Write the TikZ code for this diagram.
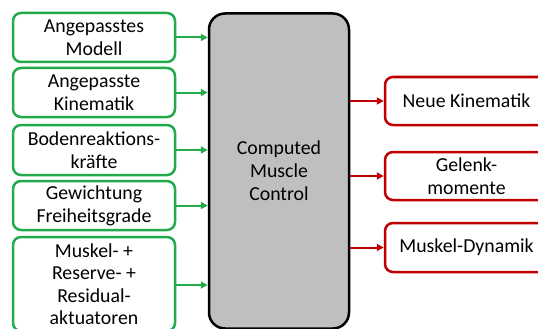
\documentclass[tikz,border=0pt]{standalone}
\usepackage{fontspec}
\setmainfont{Carlito}
\usetikzlibrary{arrows.meta}
\definecolor{ingreen}{RGB}{34,170,75}
\definecolor{outred}{RGB}{192,0,0}
\definecolor{mainfill}{RGB}{191,191,191}
\tikzset{
  inbox/.style={draw=ingreen, line width=2.5pt, rounded corners=8pt, fill=white,
    minimum width=162pt, align=center, inner sep=0pt, font=\fontsize{19.8}{23}\selectfont},
  outbox/.style={draw=outred, line width=2.5pt, rounded corners=8pt, fill=white,
    minimum width=163pt, align=center, inner sep=0pt, font=\fontsize{19.8}{23}\selectfont},
  mainbox/.style={draw=black, line width=2.5pt, rounded corners=16pt, fill=mainfill,
    minimum width=140pt, minimum height=315pt, align=center, inner sep=0pt, font=\fontsize{19.8}{23}\selectfont},
  inarrow/.style={draw=ingreen, line width=2pt, -{Triangle[length=7pt,width=7pt]}},
  outarrow/.style={draw=outred, line width=2pt, -{Triangle[length=7pt,width=7pt]}}
}
\begin{document}
\begin{tikzpicture}[x=1pt,y=-1pt]
\useasboundingbox (0,0) rectangle (538,329);
\fill[white] (0,0) rectangle (538,329);
\clip (0,0) rectangle (538,329);
\node[mainbox] (main) at (279,171) {Computed\\Muscle\\Control};
\node[inbox, minimum height=49pt] (i1) at (94,37.5) {Angepasstes\\Modell};
\node[inbox, minimum height=49pt] (i2) at (94,92.5) {Angepasste\\Kinematik};
\node[inbox, minimum height=50pt] (i3) at (94,150) {Bodenreaktions-\\kräfte};
\node[inbox, minimum height=49pt] (i4) at (94,205.5) {Gewichtung\\Freiheitsgrade};
\node[inbox, minimum height=94pt, font=\fontsize{19.8}{22.5}\selectfont] (i5) at (94,284) {Muskel- +\\Reserve- +\\Residual-\\aktuatoren};
\node[outbox, minimum height=48pt] (o1) at (466.5,101) {Neue Kinematik};
\node[outbox, minimum height=48pt] (o2) at (466.5,176) {Gelenk-\\momente};
\node[outbox, minimum height=49pt] (o3) at (466.5,247.5) {Muskel-Dynamik};
\foreach \n/\y in {i1/37.5,i2/92.5,i3/150,i4/205.5,i5/285}{
  \draw[inarrow] (\n.east |- 0,\y) -- (main.west |- 0,\y);
}
\foreach \n/\y in {o1/101,o2/176,o3/247.5}{
  \draw[outarrow] (main.east |- 0,\y) -- (\n.west |- 0,\y);
}
\end{tikzpicture}
\end{document}
